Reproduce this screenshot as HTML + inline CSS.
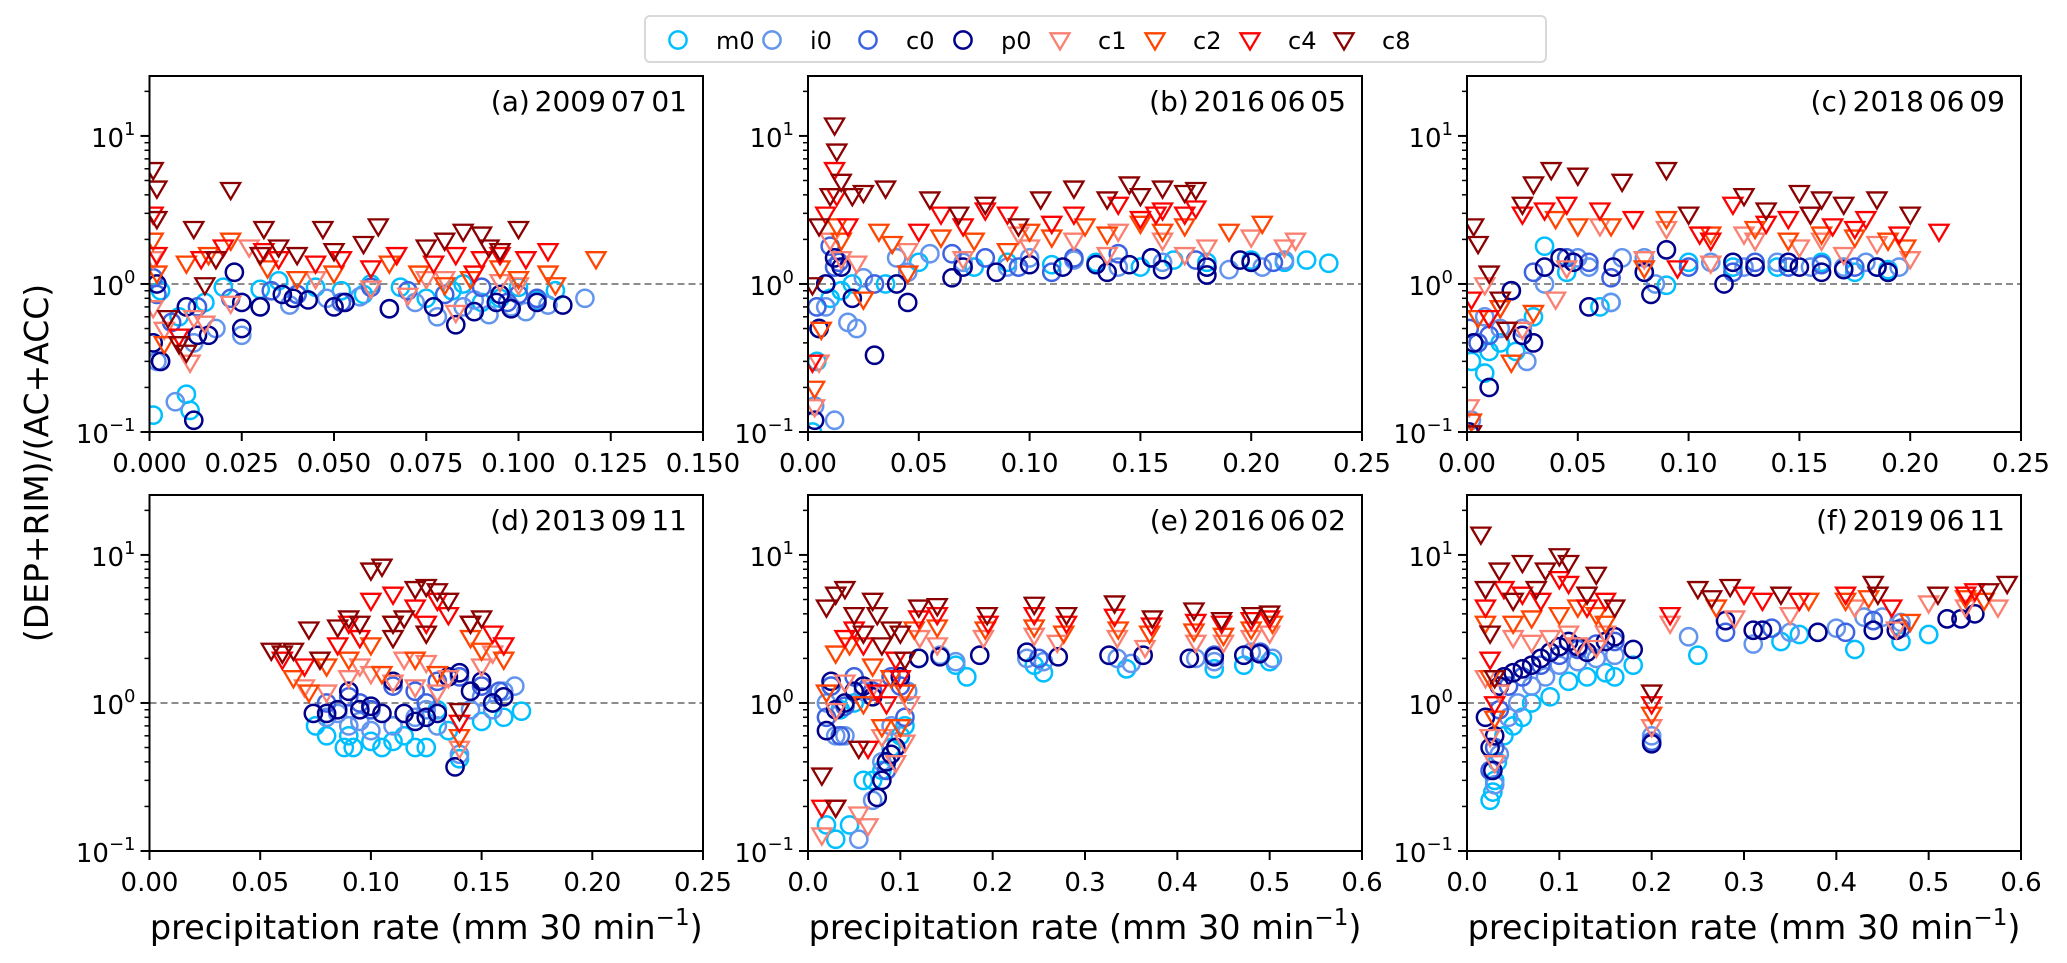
<!DOCTYPE html>
<html><head><meta charset="utf-8"><title>Ratio vs precipitation rate</title>
<style>html,body{margin:0;padding:0;background:#fff}svg{display:block}text{font-family:"DejaVu Sans","Liberation Sans",sans-serif;fill:#000}</style>
</head><body>
<svg id="fig" width="2067" height="963" viewBox="0 0 2067 963" xmlns="http://www.w3.org/2000/svg"></svg>
<script>
// ---- data (x: precipitation rate, y: ratio) ----
const seriesNames = ["m0","i0","c0","p0","c1","c2","c4","c8"];
const panelLabels = ["(a) 2009 07 01","(b) 2016 06 05","(c) 2018 06 09","(d) 2013 09 11","(e) 2016 06 02","(f) 2019 06 11"];
const xMaxes = [0.15,0.25,0.25,0.25,0.6,0.6];
const xTicksA = ["0.000","0.025","0.050","0.075","0.100","0.125","0.150"];
const xTicksB = ["0.00","0.05","0.10","0.15","0.20","0.25"];
const xTicksE = ["0.0","0.1","0.2","0.3","0.4","0.5","0.6"];

const a_m0=[[0.001,0.13],[0.010,0.18],[0.011,0.14],[0.003,0.9],[0.008,0.6],[0.015,0.75],[0.02,0.95],[0.03,0.92],[0.035,1.05],[0.045,0.95],[0.052,0.9],[0.058,0.85],[0.068,0.95],[0.075,0.8],[0.082,0.9],[0.09,0.75],[0.095,0.8],[0.1,0.95],[0.105,0.78],[0.11,0.9],[0.06,1.0],[0.085,1.0]];
const a_i0=[[0.007,0.16],[0.012,0.4],[0.018,0.5],[0.025,0.45],[0.03,0.7],[0.038,0.72],[0.048,0.8],[0.057,0.82],[0.065,0.68],[0.072,0.75],[0.078,0.6],[0.085,0.7],[0.092,0.62],[0.098,0.7],[0.102,0.65],[0.108,0.72],[0.118,0.8],[0.002,0.3],[0.04,0.85],[0.088,0.78]];
const a_c0=[[0.001,1.1],[0.002,0.85],[0.006,0.55],[0.013,0.7],[0.022,0.8],[0.033,0.9],[0.04,0.85],[0.052,0.75],[0.07,0.9],[0.08,0.85],[0.09,0.95],[0.1,0.85],[0.097,0.75],[0.105,0.8],[0.003,0.3],[0.06,0.95]];
const a_p0=[[0.001,0.4],[0.002,1.0],[0.003,0.3],[0.012,0.12],[0.013,0.45],[0.01,0.7],[0.016,0.45],[0.023,1.2],[0.025,0.75],[0.025,0.5],[0.03,0.7],[0.036,0.85],[0.039,0.8],[0.043,0.78],[0.05,0.7],[0.053,0.75],[0.065,0.68],[0.077,0.7],[0.083,0.53],[0.088,0.65],[0.094,0.75],[0.098,0.68],[0.095,0.85],[0.105,0.75],[0.112,0.72]];
const a_c1=[[0.001,0.7],[0.004,0.5],[0.011,0.3],[0.012,0.6],[0.015,0.55],[0.022,0.75],[0.027,1.8],[0.045,1.1],[0.06,0.95],[0.07,0.85],[0.075,1.1],[0.083,0.65],[0.095,1.05],[0.1,1.0],[0.001,1.5],[0.08,1.1]];
const a_c2=[[0.001,2.0],[0.002,1.2],[0.004,0.4],[0.01,1.4],[0.016,1.6],[0.022,2.0],[0.032,1.3],[0.04,1.1],[0.05,1.2],[0.065,1.4],[0.073,1.2],[0.08,1.0],[0.087,1.1],[0.095,1.3],[0.1,1.1],[0.108,1.2],[0.11,1.0],[0.121,1.5]];
const a_c4=[[0.001,3.0],[0.002,1.6],[0.008,0.45],[0.014,1.5],[0.02,1.8],[0.031,1.7],[0.035,1.5],[0.045,1.4],[0.052,1.5],[0.06,1.3],[0.067,1.6],[0.077,1.4],[0.083,1.6],[0.09,1.5],[0.095,1.6],[0.102,1.5],[0.108,1.7],[0.088,1.2]];
const a_c8=[[0.001,6],[0.002,4.5],[0.002,2.8],[0.005,0.6],[0.008,0.4],[0.01,0.35],[0.012,2.4],[0.015,1.0],[0.018,1.5],[0.022,4.4],[0.031,2.4],[0.03,1.6],[0.035,1.8],[0.04,1.6],[0.047,2.4],[0.05,1.7],[0.058,1.9],[0.062,2.5],[0.075,1.8],[0.08,2.0],[0.085,2.3],[0.09,2.2],[0.092,1.8],[0.1,2.4],[0.095,1.7]];

const b_m0=[[0.002,0.1],[0.004,0.3],[0.005,0.5],[0.01,0.8],[0.015,0.9],[0.02,1.0],[0.035,1.0],[0.05,1.4],[0.075,1.3],[0.09,1.4],[0.11,1.35],[0.13,1.4],[0.15,1.3],[0.165,1.45],[0.18,1.4],[0.2,1.45],[0.215,1.4],[0.225,1.45],[0.235,1.38]];
const b_i0=[[0.003,0.15],[0.012,0.12],[0.008,0.7],[0.018,0.55],[0.022,0.5],[0.025,1.1],[0.04,1.5],[0.055,1.6],[0.07,1.4],[0.09,1.3],[0.1,1.5],[0.12,1.45],[0.14,1.3],[0.16,1.4],[0.18,1.3],[0.19,1.25],[0.205,1.3],[0.215,1.45],[0.045,1.2]];
const b_c0=[[0.004,0.7],[0.01,1.8],[0.012,1.3],[0.014,1.4],[0.03,1.0],[0.065,1.6],[0.08,1.5],[0.095,1.3],[0.11,1.2],[0.12,1.5],[0.14,1.6],[0.155,1.5],[0.175,1.45],[0.2,1.4],[0.21,1.4]];
const b_p0=[[0.003,0.12],[0.005,0.5],[0.008,1.0],[0.012,1.5],[0.015,1.3],[0.02,0.8],[0.03,0.33],[0.04,1.0],[0.045,0.75],[0.065,1.1],[0.07,1.3],[0.085,1.2],[0.1,1.35],[0.115,1.3],[0.13,1.35],[0.135,1.2],[0.145,1.35],[0.155,1.5],[0.16,1.25],[0.18,1.3],[0.195,1.45],[0.2,1.4],[0.18,1.15]];
const b_c1=[[0.003,0.15],[0.005,0.3],[0.01,2.0],[0.015,1.5],[0.022,1.4],[0.045,1.7],[0.07,1.5],[0.1,1.8],[0.12,2.0],[0.135,1.6],[0.14,2.3],[0.16,2.0],[0.17,1.6],[0.18,1.8],[0.2,2.1],[0.215,1.8],[0.22,2.0],[0.095,2.2]];
const b_c2=[[0.003,0.2],[0.006,0.5],[0.013,2.5],[0.015,2.0],[0.025,0.8],[0.032,2.3],[0.038,1.9],[0.045,1.2],[0.06,2.1],[0.075,2.0],[0.09,1.7],[0.1,2.3],[0.11,2.1],[0.125,2.5],[0.135,2.2],[0.15,2.6],[0.16,2.3],[0.17,2.5],[0.19,2.3],[0.205,2.6]];
const b_c4=[[0.002,0.3],[0.008,3],[0.012,6],[0.013,4],[0.018,2.5],[0.05,2.3],[0.06,3.0],[0.07,2.5],[0.08,3.2],[0.09,3.0],[0.11,2.6],[0.12,3.0],[0.14,3.5],[0.15,2.8],[0.16,3.2],[0.17,3.0],[0.175,3.3],[0.157,3.0]];
const b_c8=[[0.002,1.0],[0.005,2.5],[0.01,4],[0.012,12],[0.013,8],[0.015,5],[0.02,4],[0.025,4.2],[0.035,4.5],[0.055,3.8],[0.068,3.0],[0.08,3.5],[0.095,2.5],[0.105,3.8],[0.12,4.5],[0.135,3.8],[0.145,4.8],[0.15,4.0],[0.16,4.5],[0.17,4.2],[0.175,4.4]];

const c_m0=[[0.002,0.3],[0.008,0.25],[0.01,0.35],[0.015,0.4],[0.022,0.35],[0.03,0.6],[0.035,1.8],[0.045,1.2],[0.06,0.7],[0.065,0.75],[0.08,1.2],[0.09,0.98],[0.1,1.4],[0.12,1.3],[0.14,1.3],[0.16,1.4],[0.175,1.2],[0.185,1.3],[0.19,1.25]];
const c_i0=[[0.002,0.12],[0.008,0.6],[0.015,0.5],[0.027,0.3],[0.025,0.5],[0.035,1.0],[0.05,1.5],[0.055,1.3],[0.07,1.5],[0.08,1.5],[0.085,1.0],[0.11,1.4],[0.125,1.3],[0.14,1.4],[0.155,1.3],[0.17,1.3],[0.18,1.4],[0.195,1.3],[0.065,0.75]];
const c_c0=[[0.001,0.5],[0.005,0.4],[0.01,0.45],[0.02,0.9],[0.03,1.2],[0.045,1.5],[0.055,1.4],[0.065,1.1],[0.1,1.3],[0.12,1.2],[0.13,1.4],[0.145,1.3],[0.16,1.35],[0.175,1.3],[0.19,1.2]];
const c_p0=[[0.001,0.1],[0.003,0.4],[0.01,0.2],[0.02,0.9],[0.025,0.45],[0.03,0.4],[0.035,1.3],[0.042,1.5],[0.048,1.4],[0.055,0.7],[0.066,1.3],[0.08,1.2],[0.083,0.85],[0.09,1.7],[0.116,1.0],[0.12,1.4],[0.13,1.3],[0.145,1.4],[0.15,1.3],[0.16,1.2],[0.17,1.25],[0.185,1.3],[0.19,1.2]];
const c_c1=[[0.001,0.15],[0.008,1.0],[0.015,0.7],[0.025,0.5],[0.04,0.8],[0.045,1.3],[0.06,2.5],[0.08,1.5],[0.09,2.4],[0.11,1.4],[0.13,2.0],[0.15,1.8],[0.16,2.0],[0.17,1.6],[0.185,1.9],[0.2,1.5],[0.125,2.2]];
const c_c2=[[0.002,0.12],[0.005,0.6],[0.015,0.7],[0.02,0.3],[0.03,0.65],[0.04,2.8],[0.05,2.5],[0.065,2.5],[0.08,1.3],[0.09,2.8],[0.11,2.2],[0.13,2.4],[0.145,2.0],[0.16,2.2],[0.175,2.1],[0.19,2.0],[0.198,1.8]];
const c_c4=[[0.002,0.8],[0.01,0.6],[0.018,0.5],[0.025,3.0],[0.035,3.2],[0.045,3.5],[0.06,3.2],[0.075,2.8],[0.095,1.3],[0.105,2.2],[0.12,3.5],[0.135,2.6],[0.145,2.8],[0.155,3.0],[0.165,2.5],[0.175,2.4],[0.18,2.8],[0.195,2.2],[0.213,2.3],[0.11,2.0]];
const c_c8=[[0.002,0.1],[0.003,2.5],[0.005,1.9],[0.01,1.2],[0.015,0.8],[0.018,0.5],[0.025,3.5],[0.03,4.8],[0.038,6.0],[0.05,5.5],[0.07,5.0],[0.09,6.0],[0.1,3.0],[0.125,4.0],[0.135,3.2],[0.15,4.2],[0.16,3.8],[0.17,3.5],[0.185,3.8],[0.2,3.0],[0.155,3.0]];

const d_m0=[[0.075,0.7],[0.08,0.6],[0.088,0.5],[0.092,0.5],[0.1,0.55],[0.105,0.5],[0.11,0.55],[0.12,0.5],[0.125,0.5],[0.135,0.65],[0.14,0.42],[0.15,0.75],[0.16,0.8],[0.168,0.88],[0.09,0.6],[0.115,0.6],[0.13,0.9],[0.155,1.0]];
const d_i0=[[0.08,0.8],[0.09,0.7],[0.095,0.75],[0.1,0.65],[0.11,0.7],[0.12,0.8],[0.13,0.7],[0.14,0.45],[0.145,0.9],[0.155,0.9],[0.16,1.2],[0.165,1.3],[0.085,0.85],[0.125,0.9],[0.15,1.1]];
const d_c0=[[0.08,1.0],[0.09,1.1],[0.1,0.9],[0.11,1.3],[0.12,1.2],[0.13,1.4],[0.14,1.5],[0.15,1.3],[0.158,1.2],[0.095,1.0],[0.125,1.0]];
const d_p0=[[0.074,0.85],[0.08,0.85],[0.085,0.9],[0.09,1.2],[0.095,0.9],[0.1,0.95],[0.105,0.85],[0.115,0.85],[0.12,0.75],[0.125,0.8],[0.13,0.85],[0.135,1.5],[0.138,0.37],[0.14,1.6],[0.145,1.2],[0.15,1.4],[0.155,1.0],[0.16,1.1],[0.11,1.4]];
const d_c1=[[0.07,1.3],[0.08,1.2],[0.09,1.5],[0.1,1.6],[0.11,1.4],[0.115,2.0],[0.12,1.3],[0.13,1.2],[0.135,1.5],[0.14,0.5],[0.15,1.8],[0.155,2.2],[0.16,2.5],[0.095,1.8],[0.125,1.9]];
const d_c2=[[0.065,1.5],[0.072,1.2],[0.08,1.8],[0.09,2.0],[0.1,2.5],[0.11,3.5],[0.12,2.0],[0.13,1.6],[0.14,0.6],[0.145,2.8],[0.15,2.3],[0.16,2.0],[0.125,3.0],[0.105,1.6]];
const d_c4=[[0.06,2.0],[0.07,1.8],[0.085,2.5],[0.09,3.5],[0.1,5.0],[0.11,5.5],[0.12,4.5],[0.13,5.0],[0.135,4.0],[0.14,0.75],[0.145,3.5],[0.155,3.0],[0.16,2.5],[0.095,2.8],[0.125,3.5]];
const d_c8=[[0.055,2.3],[0.06,2.2],[0.065,2.3],[0.072,3.2],[0.077,2.0],[0.085,3.3],[0.09,3.8],[0.095,3.5],[0.1,8.0],[0.105,8.5],[0.11,3.5],[0.115,3.8],[0.12,6.0],[0.125,6.2],[0.13,5.8],[0.135,5.0],[0.14,0.9],[0.145,3.5],[0.15,3.8],[0.11,2.8],[0.125,3.0]];

const e_m0=[[0.02,0.15],[0.03,0.12],[0.045,0.15],[0.06,0.3],[0.07,0.3],[0.08,0.35],[0.09,0.5],[0.1,0.6],[0.105,0.7],[0.12,2.0],[0.16,1.8],[0.172,1.5],[0.245,1.8],[0.255,1.6],[0.345,1.7],[0.44,1.7],[0.472,1.8],[0.5,1.9],[0.05,1.0],[0.035,0.9]];
const e_i0=[[0.02,1.0],[0.03,0.6],[0.04,0.6],[0.055,0.12],[0.07,0.22],[0.08,0.4],[0.09,0.7],[0.1,1.5],[0.108,1.2],[0.095,0.5],[0.143,2.1],[0.16,1.9],[0.237,2.0],[0.255,1.9],[0.335,2.0],[0.35,1.85],[0.42,2.0],[0.44,1.9],[0.48,2.2],[0.503,2.0],[0.06,1.2]];
const e_c0=[[0.02,0.8],[0.025,1.3],[0.035,0.6],[0.05,1.5],[0.07,1.2],[0.085,0.35],[0.09,1.5],[0.1,1.3],[0.105,0.8],[0.04,0.95],[0.25,2.0],[0.44,2.1],[0.49,2.2]];
const e_p0=[[0.02,0.65],[0.025,1.4],[0.03,0.9],[0.04,1.0],[0.05,1.2],[0.06,1.3],[0.07,1.1],[0.075,0.23],[0.08,0.3],[0.085,0.4],[0.09,0.45],[0.095,0.5],[0.1,1.5],[0.12,2.0],[0.143,2.05],[0.186,2.1],[0.237,2.2],[0.271,2.05],[0.326,2.1],[0.363,2.1],[0.413,2.0],[0.44,2.05],[0.472,2.1],[0.489,2.15]];
const e_c1=[[0.015,0.13],[0.03,0.9],[0.04,1.4],[0.055,0.18],[0.065,0.15],[0.07,1.3],[0.08,0.6],[0.095,0.4],[0.105,0.55],[0.11,1.0],[0.121,2.8],[0.14,2.5],[0.19,2.8],[0.245,2.9],[0.27,2.6],[0.335,2.8],[0.365,2.4],[0.42,2.6],[0.45,2.6],[0.48,2.8],[0.5,3.0]];
const e_c2=[[0.02,1.2],[0.03,2.2],[0.045,2.5],[0.06,1.0],[0.07,1.8],[0.08,0.7],[0.09,1.5],[0.1,0.7],[0.105,1.2],[0.115,3.2],[0.14,3.3],[0.192,3.2],[0.245,3.3],[0.277,3.0],[0.336,3.2],[0.37,3.0],[0.418,3.1],[0.45,2.9],[0.48,3.2],[0.503,3.5]];
const e_c4=[[0.015,0.2],[0.03,0.2],[0.04,2.8],[0.05,3.2],[0.06,2.5],[0.065,0.5],[0.075,1.2],[0.085,1.0],[0.095,2.0],[0.1,1.5],[0.12,3.8],[0.14,4.0],[0.195,3.5],[0.245,4.0],[0.28,3.5],[0.332,3.9],[0.372,3.4],[0.42,3.6],[0.448,3.5],[0.48,3.7],[0.5,3.8]];
const e_c8=[[0.015,0.33],[0.03,0.2],[0.02,4.5],[0.03,5.5],[0.04,6.0],[0.05,4.0],[0.055,0.5],[0.06,3.0],[0.07,5.0],[0.075,4.0],[0.08,2.5],[0.09,3.2],[0.1,3.0],[0.105,2.0],[0.12,4.5],[0.14,4.6],[0.194,4.0],[0.245,4.7],[0.28,4.0],[0.332,4.8],[0.373,3.8],[0.418,4.3],[0.448,3.7],[0.481,4.0],[0.5,4.1]];

const f_m0=[[0.025,0.22],[0.028,0.25],[0.03,0.3],[0.033,0.4],[0.04,0.6],[0.05,0.7],[0.06,0.8],[0.07,1.0],[0.09,1.1],[0.11,1.4],[0.13,1.5],[0.15,1.6],[0.16,1.5],[0.18,1.8],[0.2,0.55],[0.25,2.1],[0.34,2.6],[0.42,2.3],[0.47,2.6],[0.5,2.9],[0.36,2.9]];
const f_i0=[[0.03,0.28],[0.035,0.45],[0.045,0.8],[0.055,1.0],[0.07,1.3],[0.085,1.5],[0.1,1.8],[0.12,1.9],[0.14,2.0],[0.16,2.1],[0.2,0.6],[0.24,2.8],[0.31,2.5],[0.38,3.0],[0.4,3.2],[0.45,3.8],[0.47,3.5],[0.43,3.8],[0.35,3.0]];
const f_c0=[[0.025,0.35],[0.03,0.5],[0.035,0.9],[0.045,1.3],[0.06,1.5],[0.08,1.8],[0.1,2.1],[0.12,2.3],[0.14,2.5],[0.16,2.6],[0.2,0.55],[0.28,3.0],[0.33,3.2],[0.41,3.0],[0.44,3.6],[0.47,3.2]];
const f_p0=[[0.02,0.8],[0.025,0.5],[0.028,0.35],[0.03,0.6],[0.035,1.3],[0.04,1.5],[0.05,1.6],[0.06,1.7],[0.07,1.8],[0.08,2.0],[0.09,2.2],[0.1,2.4],[0.11,2.6],[0.12,2.4],[0.13,2.2],[0.15,2.6],[0.16,2.8],[0.18,2.3],[0.2,0.53],[0.28,3.6],[0.31,3.1],[0.32,3.1],[0.38,3.0],[0.44,3.1],[0.465,3.1],[0.52,3.7],[0.535,3.7],[0.55,4.0]];
const f_c1=[[0.02,1.5],[0.025,0.6],[0.03,0.4],[0.035,1.2],[0.05,2.8],[0.07,2.6],[0.09,2.8],[0.11,3.0],[0.12,2.5],[0.14,2.4],[0.15,3.0],[0.2,0.7],[0.22,3.5],[0.29,3.8],[0.35,4.0],[0.42,4.5],[0.465,3.2],[0.54,4.5],[0.575,4.5],[0.5,4.8]];
const f_c2=[[0.02,3.5],[0.025,1.5],[0.03,0.8],[0.05,3.5],[0.07,3.8],[0.1,4.0],[0.12,4.5],[0.14,4.0],[0.15,3.5],[0.2,0.85],[0.27,4.5],[0.37,5.0],[0.41,5.0],[0.435,5.2],[0.48,3.6],[0.54,5.2],[0.56,5.0]];
const f_c4=[[0.02,4.5],[0.025,2.0],[0.03,1.0],[0.04,6.0],[0.06,5.5],[0.08,5.0],[0.1,7.0],[0.11,6.5],[0.13,4.5],[0.15,5.0],[0.2,1.0],[0.22,4.0],[0.3,5.5],[0.32,5.0],[0.36,5.0],[0.41,5.5],[0.46,4.5],[0.54,5.5],[0.55,5.8]];
const f_c8=[[0.015,14],[0.02,6.0],[0.025,3.0],[0.03,1.5],[0.035,8.0],[0.05,5.0],[0.06,9.0],[0.075,6.0],[0.085,8.0],[0.1,10.0],[0.11,9.0],[0.13,5.5],[0.14,7.5],[0.16,4.5],[0.2,1.2],[0.25,6.0],[0.265,5.2],[0.285,6.2],[0.34,5.5],[0.44,6.5],[0.445,5.5],[0.51,5.5],[0.565,5.8],[0.585,6.5]];

// ---- layout / style ----
const NS="http://www.w3.org/2000/svg";
const svg=document.getElementById('fig');
const colors={m0:"#00bfff",i0:"#6495ed",c0:"#3d63e0",p0:"#00008b",c1:"#fa8072",c2:"#ff4500",c4:"#ff0000",c8:"#8b0000"};
const Y_MIN=0.1, Y_MAX=25.4;
const colX=[[149.5,703],[808,1362],[1467,2021]];
const rowY=[[76,432],[495,851]];
const panelData=[
 [a_m0,a_i0,a_c0,a_p0,a_c1,a_c2,a_c4,a_c8],
 [b_m0,b_i0,b_c0,b_p0,b_c1,b_c2,b_c4,b_c8],
 [c_m0,c_i0,c_c0,c_p0,c_c1,c_c2,c_c4,c_c8],
 [d_m0,d_i0,d_c0,d_p0,d_c1,d_c2,d_c4,d_c8],
 [e_m0,e_i0,e_c0,e_p0,e_c1,e_c2,e_c4,e_c8],
 [f_m0,f_i0,f_c0,f_p0,f_c1,f_c2,f_c4,f_c8]];
const panelTicks=[xTicksA,xTicksB,xTicksB,xTicksB,xTicksE,xTicksE];

function mk(tag,attrs,parent){const e=document.createElementNS(NS,tag);for(const k in attrs)e.setAttribute(k,attrs[k]);(parent||svg).appendChild(e);return e;}
function circleMark(g,x,y,c){return mk('circle',{cx:x,cy:y,r:8.6,fill:'none',stroke:c,'stroke-width':2.5},g);}
function triMark(g,x,y,c){const s=9.5;return mk('polygon',{points:`${x-s},${y-s*0.6} ${x+s},${y-s*0.6} ${x},${y+s*1.1}`,fill:'none',stroke:c,'stroke-width':2.3,'stroke-linejoin':'miter'},g);}

panelData.forEach((series,pi)=>{
  const col=pi%3,row=Math.floor(pi/3);
  const [x0,x1]=colX[col],[y0,y1]=rowY[row];
  const xmax=xMaxes[pi];
  const sx=v=>x0+(v/xmax)*(x1-x0);
  const sy=v=>y1-(Math.log10(v)-Math.log10(Y_MIN))/(Math.log10(Y_MAX)-Math.log10(Y_MIN))*(y1-y0);
  const g=mk('g',{});
  
  
  const cp=mk('clipPath',{id:'clip'+pi},g);
  mk('rect',{x:x0,y:y0,width:x1-x0,height:y1-y0},cp);
  const ref=mk('line',{x1:x0,x2:x1,y1:sy(1),y2:sy(1),stroke:'#8c8c8c','stroke-width':2,'stroke-dasharray':'7,4'},g);
  
  
  const mg=mk('g',{'clip-path':`url(#clip${pi})`},g);
  
  
  series.forEach((pts,si)=>{
    const name=seriesNames[si],c=colors[name];
    const sg=mk('g',{},mg);
    
    
    pts.forEach(p=>{
      const px=sx(p[0]),py=sy(p[1]);
      const m = si<4 ? circleMark(sg,px,py,c) : triMark(sg,px,py,c);
      
      
    });
  });
  const fr=mk('rect',{x:x0,y:y0,width:x1-x0,height:y1-y0,fill:'none',stroke:'#000','stroke-width':2},g);
  
  
  const ticks=panelTicks[pi];
  const step=xmax/(ticks.length-1);
  ticks.forEach((lab,i)=>{
    const tx=sx(i*step);
    mk('line',{x1:tx,x2:tx,y1:y1,y2:y1+9,stroke:'#000','stroke-width':2},g);
    const t=mk('text',{x:tx,y:y1+40,'text-anchor':'middle','font-size':26},g);
    t.textContent=lab;
    
    
  });
  [-1,0,1].forEach(ex=>{
    const ty=sy(Math.pow(10,ex));
    mk('line',{x1:x0-9,x2:x0,y1:ty,y2:ty,stroke:'#000','stroke-width':2},g);
    const t=mk('text',{x:x0-14,y:ty+11,'text-anchor':'end','font-size':26},g);
    
    
    const a=mk('tspan',{},t);a.textContent='10';
    const b=mk('tspan',{dy:-12,'font-size':18},t);b.textContent=ex<0?'\u22121':String(ex);
  });
  for(let ex=-1;ex<=1;ex++){for(let k=2;k<=9;k++){const v=k*Math.pow(10,ex);if(v>Y_MAX)break;const ty=sy(v);
    mk('line',{x1:x0-5,x2:x0,y1:ty,y2:ty,stroke:'#000','stroke-width':1.5},g);}}
  const tt=mk('text',{x:x1-16,y:y0+35,'text-anchor':'end','font-size':28,'word-spacing':'-4'},g);
  tt.textContent=panelLabels[pi];
  
  
  if(row===1){
    const xt=mk('text',{x:(x0+x1)/2,y:y1+88,'text-anchor':'middle','font-size':33.5},g);
    
    
    const s1=mk('tspan',{},xt);s1.textContent='precipitation rate (mm 30 min';
    const s2=mk('tspan',{dy:-14,'font-size':23},xt);s2.textContent='\u22121';
    const s3=mk('tspan',{dy:14},xt);s3.textContent=')';
  }
});

const yt=mk('text',{x:0,y:0,'text-anchor':'middle','font-size':33,transform:'translate(48,463) rotate(-90)'});
yt.textContent='(DEP+RIM)/(AC+ACC)';



const lg=mk('g',{});


mk('rect',{x:645,y:16,width:901,height:46,rx:5,fill:'#fff',stroke:'#d9d9d9','stroke-width':2},lg);
const legMarkX=[678,772,868,963,1060,1155,1250,1344];
seriesNames.forEach((n,i)=>{
  const eg=mk('g',{},lg);
  
  
  const cy=40;
  if(i<4) circleMark(eg,legMarkX[i],cy,colors[n]); else triMark(eg,legMarkX[i],cy-1,colors[n]);
  const t=mk('text',{x:legMarkX[i]+38,y:cy+9,'font-size':24},eg);
  t.textContent=n;
});
</script>
</body></html>
